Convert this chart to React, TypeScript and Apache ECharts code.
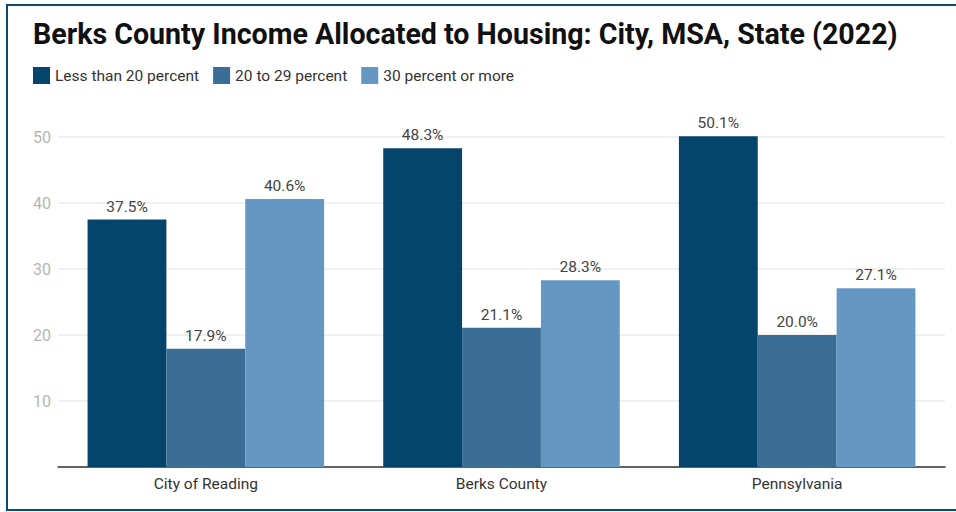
import React, { useEffect, useRef } from "react";
import * as echarts from "echarts";

const categories = ["City of Reading", "Berks County", "Pennsylvania"];
const seriesNames = ["Less than 20 percent", "20 to 29 percent", "30 percent or more"];
const lessThan20 = [37.5, 48.3, 50.1];
const from20to29 = [17.9, 21.1, 20.0];
const over30 = [40.6, 28.3, 27.1];
const colors = ["#05456b", "#3a6e96", "#6597c3"];
const titleText = "Berks County Income Allocated to Housing: City, MSA, State (2022)";

export default function App() {
  const ref = useRef<HTMLDivElement>(null);
  useEffect(() => {
    if (!ref.current) return;
    const chart = echarts.init(ref.current, null, { renderer: "svg" });
    const dataSets = [lessThan20, from20to29, over30];
    chart.setOption({
      animation: false,
      backgroundColor: "#ffffff",
      textStyle: { fontFamily: "Roboto" },
      title: {
        text: titleText,
        left: 33,
        top: 19,
        padding: 0,
        textStyle: { fontFamily: "Roboto", fontWeight: "bold", fontSize: 28.6, color: "#111111" },
      },
      legend: {
        left: 33,
        top: 67,
        padding: 0,
        itemWidth: 17,
        itemHeight: 17,
        itemGap: 14,
        icon: "rect",
        textStyle: { fontFamily: "Roboto", fontSize: 15.5, color: "#333333" },
        data: seriesNames,
      },
      grid: { left: 58, right: 11, top: 137, bottom: 45, containLabel: false },
      xAxis: {
        type: "category",
        data: categories,
        axisLine: { show: true, lineStyle: { color: "#333333", width: 1.5 } },
        axisTick: { show: false },
        axisLabel: { fontFamily: "Roboto", fontSize: 15.5, color: "#333333", margin: 9 },
      },
      yAxis: {
        type: "value",
        min: 0,
        max: 50,
        interval: 10,
        axisLine: { show: false },
        axisTick: { show: false },
        axisLabel: {
          fontFamily: "Roboto",
          fontSize: 16,
          color: "#b5b5b5",
          margin: 7,
          formatter: (v: number) => (v === 0 ? "" : String(v)),
        },
        splitLine: { show: true, lineStyle: { color: "#ebebeb", width: 1.5 } },
      },
      graphic: [
        {
          type: "rect",
          shape: { x: 7, y: 5, width: 1000, height: 505 },
          style: { fill: "none", stroke: "#0d4a6e", lineWidth: 2 },
          silent: true,
        },
      ],
      series: seriesNames.map((name, i) => ({
        name,
        type: "bar",
        data: dataSets[i],
        barGap: "0%",
        barCategoryGap: "20%",
        clip: false,
        itemStyle: { color: colors[i] },
        label: {
          show: true,
          position: "top",
          distance: 5,
          fontFamily: "Roboto",
          fontSize: 15.5,
          color: "#444444",
          formatter: (p: any) => p.value.toFixed(1) + "%",
        },
      })),
    });
    return () => chart.dispose();
  }, []);
  return (
    <div
      ref={ref}
      style={{ position: "fixed", left: 0, top: 0, width: 956, height: 512 }}
    />
  );
}
